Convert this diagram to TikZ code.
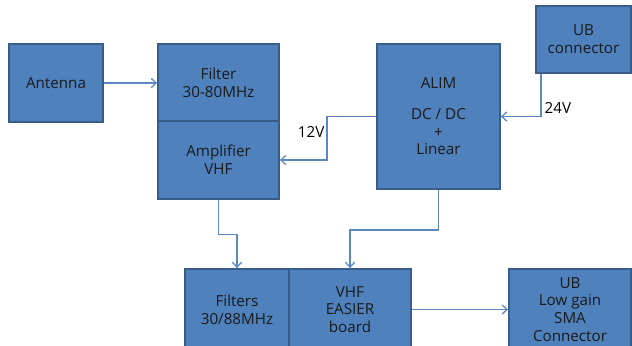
\documentclass[tikz,border=0pt]{standalone}
\usepackage{fontspec}
\setmainfont{Open Sans}
\usepackage{xcolor}
\usepackage{tikz}
\usetikzlibrary{arrows.meta,calc,positioning}
\definecolor{BoxBlue}{HTML}{4F81BD}
\definecolor{BoxEdge}{HTML}{385D8A}
\definecolor{LinkBlue}{HTML}{5B87C2}
\definecolor{TextDark}{HTML}{1A1A1A}

\begin{document}
\begin{tikzpicture}[x=0.025cm, y=-0.025cm,
  font=\fontsize{10.8}{12.6}\selectfont, every node/.style={align=center},
  block/.style={draw=BoxEdge, line width=1.4pt, fill=BoxBlue, text=TextDark,
    inner sep=0pt},
  link/.style={LinkBlue, line width=0.9pt,
    -{Straight Barb[length=3.5pt,width=6.5pt]}},
  volt/.style={text=black, inner sep=1pt}]
  \useasboundingbox (0,0) rectangle (632,345);
  \clip (0,0) rectangle (632,345);
  % upper row
  \node[block, minimum width=2.35cm, minimum height=1.95cm] (ant) at (56,83) {Antenna};
  \node[block, minimum width=3.02cm, minimum height=1.93cm] (filt) at (218.5,83) {Filter\\30-80MHz};
  \node[block, minimum width=3.02cm, minimum height=1.93cm] (amp) at (218.5,160) {Amplifier\\VHF};
  \node[block, minimum width=3.07cm, minimum height=3.62cm] (alim) at (438.5,116.5) {ALIM\\[9pt]DC / DC\\+\\Linear};
  \node[block, minimum width=2.37cm, minimum height=1.67cm] (ubc) at (583.5,39.5) {UB\\connector};
  % lower row
  \node[block, minimum width=2.6cm, minimum height=2.02cm] (filts) at (237,309.5) {Filters\\30/88MHz};
  \node[block, minimum width=3.05cm, minimum height=2.02cm] (vhf) at (350,309.5) {VHF\\EASIER\\board};
  \node[block, minimum width=3.05cm, minimum height=2.02cm] (ubl) at (570,309.5) {UB\\Low gain\\SMA\\Connector};
  % links
  \draw[link] (ant.east) -- (filt.west);
  \draw[link] ($(ubc.south west)+(6,0)$) |- (alim.east);
  \draw[link] (alim.west) -- ++(-49,0) |- (amp.east);
  \draw[link] (amp.south) -- ++(0,35) -| (filts.north);
  \draw[link] (alim.south) -- ++(0,40) -| (vhf.north);
  \draw[link] (vhf.east) -- (ubl.west);
  % supply labels
  \node[volt, anchor=east] (v12) at (326,131.5) {12V};
  \node[volt, anchor=west] (v24) at (543,108) {24V};
\end{tikzpicture}
\end{document}
